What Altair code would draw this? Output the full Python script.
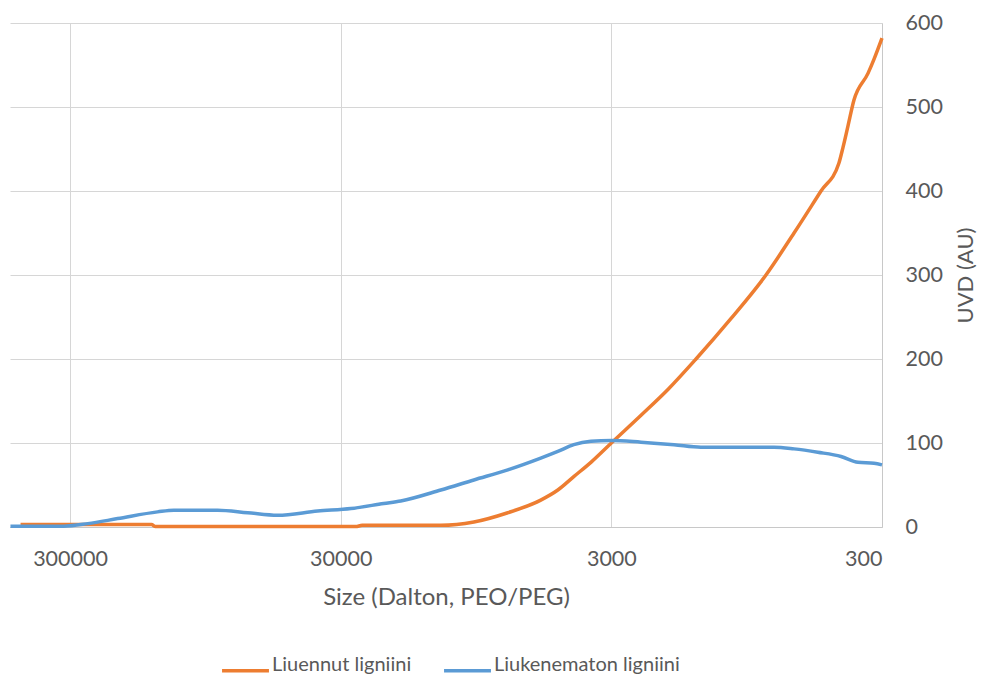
import altair as alt
import pandas as pd

# Liuennut ligniini (dissolved lignin): molecular size in Dalton vs UVD response
liuennut_size = [457000, 150000, 145000, 26400, 25000, 12800, 9660, 7240, 5470, 4730,
                 4130, 3570, 3000, 2330, 1850, 1460, 1085, 805, 634, 504,
                 433, 418, 401, 381, 338, 321, 300]
liuennut_uvd = [3, 3, 0.5, 0.5, 2, 2, 6, 17, 32, 44,
                60, 77, 100, 133, 164, 200, 248, 300, 350, 400,
                433, 452, 477, 508, 540, 557, 582]

# Liukenematon ligniini (insoluble lignin)
liukenematon_size = [498000, 317000, 258000, 200000, 142500, 124000, 85500, 66200, 51300, 36500,
                     27500, 20800, 18000, 12800, 9660, 7240, 5470, 4730, 4130,
                     3570, 3000, 2330, 1760, 1400, 752, 634, 518, 425, 368, 321, 300]
liukenematon_uvd = [1, 1, 4, 10, 18, 20, 20, 17, 14, 19,
                    22, 28, 31, 44, 56, 68, 82, 90, 98,
                    102, 103, 101, 98, 95, 95, 93, 89, 84, 77, 76, 74]

series_names = ["Liuennut ligniini", "Liukenematon ligniini"]
series_colors = ["#ED7D31", "#5B9BD5"]

x_ticks = [300000, 30000, 3000, 300]
y_ticks = [0, 100, 200, 300, 400, 500, 600]

frames = []
for name, sizes, values in [
    (series_names[0], liuennut_size, liuennut_uvd),
    (series_names[1], liukenematon_size, liukenematon_uvd),
]:
    frames.append(pd.DataFrame({"series": name, "size": sizes, "uvd": values}))
df = pd.concat(frames, ignore_index=True)

FONT = "Lato"
TEXT = "#595959"
GRID = "#d6d6d6"

chart = (
    alt.Chart(df)
    .mark_line(strokeWidth=3.5, interpolate="monotone")
    .encode(
        x=alt.X(
            "size:Q",
            scale=alt.Scale(type="log", domain=[300, 500000], reverse=True, nice=False),
            axis=alt.Axis(
                values=x_ticks,
                format="d",
                title="Size (Dalton, PEO/PEG)",
                ticks=False,
                domainColor="#c8c8c8",
                domainWidth=1,
                grid=True,
                gridColor=GRID,
                gridWidth=1,
                labelFont=FONT,
                labelFontSize=21.5,
                labelColor=TEXT,
                labelPadding=21,
                titleFont=FONT,
                titleFontSize=24,
                titleFontWeight="normal",
                titleColor=TEXT,
                titlePadding=16,
            ),
        ),
        y=alt.Y(
            "uvd:Q",
            scale=alt.Scale(domain=[0, 600], nice=False),
            axis=alt.Axis(
                orient="right",
                values=y_ticks,
                title="UVD (AU)",
                titleAngle=270,
                ticks=False,
                domainColor="#c8c8c8",
                domainWidth=1,
                grid=True,
                gridColor=GRID,
                gridWidth=1,
                labelFont=FONT,
                labelFontSize=21.5,
                labelColor=TEXT,
                labelPadding=23,
                titleFont=FONT,
                titleFontSize=22,
                titleFontWeight="normal",
                titleColor=TEXT,
                titlePadding=35,
            ),
        ),
        color=alt.Color(
            "series:N",
            scale=alt.Scale(domain=series_names, range=series_colors),
            legend=alt.Legend(
                orient="none",
                legendX=210,
                legendY=622,
                direction="horizontal",
                title=None,
                symbolType="stroke",
                symbolStrokeWidth=3.5,
                symbolSize=2200,
                labelFont=FONT,
                labelFontSize=20,
                labelColor=TEXT,
                labelLimit=0,
                labelBaseline="alphabetic",
                columnPadding=25,
                labelOffset=1,
            ),
        ),
    )
    .properties(
        width=872,
        height=504,
        autosize=alt.AutoSizeParams(type="none"),
        padding={"left": 10, "top": 23, "right": 99, "bottom": 150},
    )
    .configure_view(stroke=None)
)

chart.save("out.html", embed_options={"renderer": "svg", "actions": False})
